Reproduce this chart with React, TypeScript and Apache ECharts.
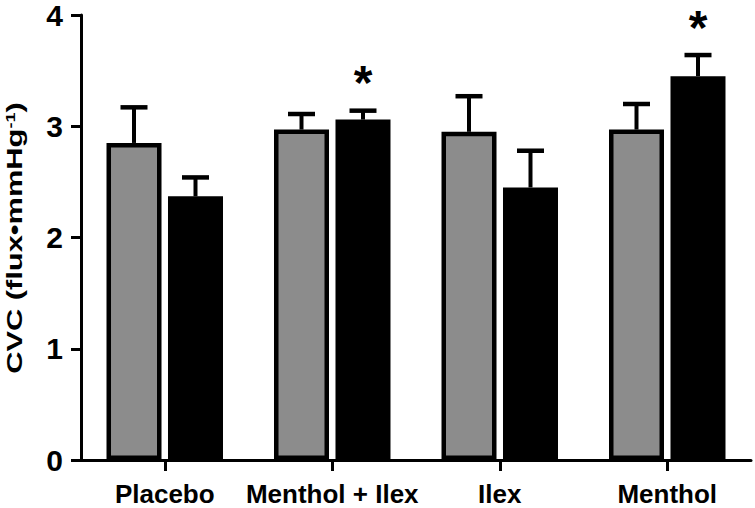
import React, { useEffect, useRef } from 'react';
import * as echarts from 'echarts';

const categories = ['Placebo', 'Menthol + Ilex', 'Ilex', 'Menthol'];
const grayMeans = [2.85, 2.97, 2.95, 2.97];
const grayErrors = [0.32, 0.14, 0.32, 0.23];
const blackMeans = [2.37, 3.06, 2.45, 3.45];
const blackErrors = [0.17, 0.08, 0.33, 0.19];
const graySignificance = ['', '', '', ''];
const blackSignificance = ['', '*', '', '*'];
const yMin = 0;
const yMax = 4;
const yInterval = 1;
const yTitle = 'CVC (flux\u2022mmHg';
const yTitleSup = '-1';

const FONT = "'Liberation Sans', Arial, Helvetica, sans-serif";
const BAR_W = 55;
const BAR_GAP_PX = 6.5;
const OFFSET = (BAR_W + BAR_GAP_PX) / 2;

function errorSeries(name: string, means: number[], errors: number[], sig: string[], offset: number) {
  return {
    type: 'custom',
    name,
    z: 5,
    data: means.map((m, i) => [i, m, errors[i]]),
    renderItem: (params: any, api: any) => {
      const i = api.value(0);
      const mean = api.value(1);
      const err = api.value(2);
      const base = api.coord([i, mean]);
      const top = api.coord([i, mean + err]);
      const cx = base[0] + offset;
      const children: any[] = [
        { type: 'line', shape: { x1: cx, y1: top[1], x2: cx, y2: base[1] }, style: { stroke: '#000', lineWidth: 4 } },
        { type: 'line', shape: { x1: cx - 13.5, y1: top[1], x2: cx + 13.5, y2: top[1] }, style: { stroke: '#000', lineWidth: 4.5 } },
      ];
      const s = sig[params.dataIndex];
      if (s) {
        children.push({
          type: 'text',
          x: cx,
          y: top[1] - 28,
          style: {
            text: s,
            fontSize: 48,
            fontWeight: 'bold',
            fontFamily: FONT,
            fill: '#000',
            align: 'center',
            verticalAlign: 'middle',
          },
        });
      }
      return { type: 'group', children };
    },
  };
}

export default function App() {
  const ref = useRef<HTMLDivElement>(null);
  useEffect(() => {
    if (!ref.current) return;
    const chart = echarts.init(ref.current, null, { renderer: 'svg' });
    const axisLineStyle = { color: '#000', width: 3 };
    chart.setOption({
      animation: false,
      backgroundColor: '#fff',
      grid: { left: 81, right: 4, top: 15, bottom: 48, containLabel: false },
      xAxis: {
        type: 'category',
        data: categories,
        axisLine: { show: true, lineStyle: axisLineStyle },
        axisTick: { show: true, alignWithLabel: true, length: 11, lineStyle: axisLineStyle },
        axisLabel: { color: '#000', fontSize: 26, fontWeight: 'bold', fontFamily: FONT, margin: 21, interval: 0 },
        splitLine: { show: false },
      },
      yAxis: {
        type: 'value',
        min: yMin,
        max: yMax,
        interval: yInterval,
        axisLine: { show: true, lineStyle: axisLineStyle },
        axisTick: { show: true, length: 10, lineStyle: axisLineStyle },
        axisLabel: { color: '#000', fontSize: 30, fontWeight: 'bold', fontFamily: FONT, margin: 18 },
        splitLine: { show: false },
      },
      graphic: [
        {
          type: 'text',
          x: 15,
          y: 238,
          rotation: Math.PI / 2,
          scaleX: 1.4,
          style: {
            text: yTitle + '{sup|' + yTitleSup + '})',
            fontSize: 22,
            fontWeight: 'bold',
            fontFamily: FONT,
            fill: '#000',
            align: 'center',
            verticalAlign: 'middle',
            rich: {
              sup: { fontSize: 13, fontWeight: 'bold', fontFamily: FONT, fill: '#000', verticalAlign: 'top', padding: [0, 0, 8, 0] },
            },
          },
        },
      ],
      series: [
        {
          type: 'bar',
          name: 'gray',
          data: grayMeans,
          barWidth: BAR_W,
          barGap: ((BAR_GAP_PX / BAR_W) * 100).toFixed(1) + '%',
          itemStyle: { color: '#8c8c8c', borderColor: '#000', borderWidth: 4.5 },
        },
        {
          type: 'bar',
          name: 'black',
          data: blackMeans,
          barWidth: BAR_W,
          itemStyle: { color: '#000', borderColor: '#000', borderWidth: 4.5 },
        },
        errorSeries('grayErr', grayMeans, grayErrors, graySignificance, -OFFSET),
        errorSeries('blackErr', blackMeans, blackErrors, blackSignificance, OFFSET),
      ],
    });
    return () => chart.dispose();
  }, []);
  return <div ref={ref} style={{ position: 'absolute', left: 0, top: 0, width: 755, height: 508 }} />;
}
